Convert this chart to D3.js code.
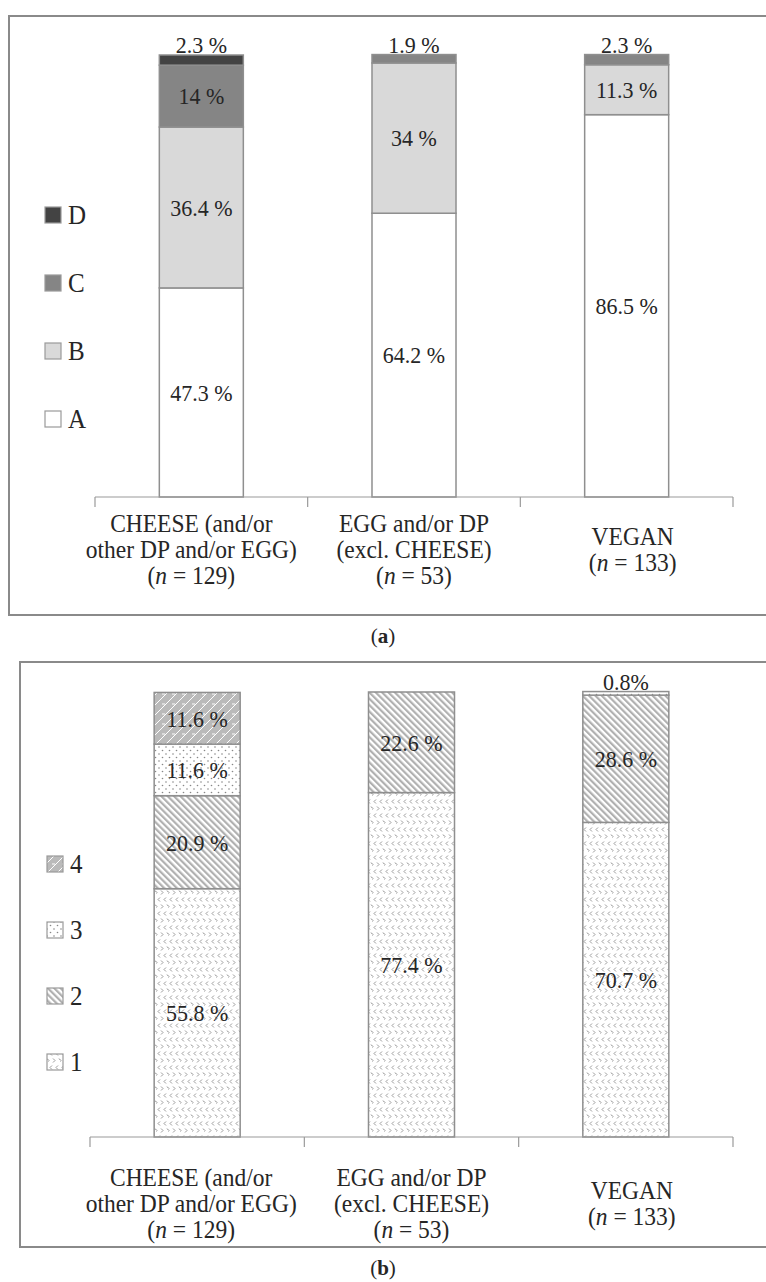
<!DOCTYPE html>
<html><head><meta charset="utf-8">
<script src="https://cdn.jsdelivr.net/npm/d3@7"></script>
<style>
body{margin:0;background:#fff}
svg{display:block}
text{font-family:"Liberation Serif","Times New Roman",serif;fill:#262626}
</style>
</head><body>
<svg id="c" width="766" height="1282"></svg>
<script>
// ---------- data ----------
const categories = ["CHEESE", "EGG", "VEGAN"];
const categoryLines = [["CHEESE (and/or", "other DP and/or EGG)"], ["EGG and/or DP", "(excl. CHEESE)"], ["VEGAN"]];
const sampleSizes = [129, 53, 133];

// panel (a)
const keysA = ["A", "B", "C", "D"];
const valuesA_A = [47.3, 64.2, 86.5];
const valuesA_B = [36.4, 34, 11.3];
const valuesA_C = [14, 1.9, 2.3];
const valuesA_D = [2.3, 0, 0];

// panel (b)
const keysB = ["1", "2", "3", "4"];
const valuesB_1 = [55.8, 77.4, 70.7];
const valuesB_2 = [20.9, 22.6, 28.6];
const valuesB_3 = [11.6, 0, 0.8];
const valuesB_4 = [11.6, 0, 0];

const panelLabels = ["a", "b"];

// ---------- drawing ----------
const svg = d3.select("#c");
const defs = svg.append("defs");

// patterns for panel (b)
const p1 = defs.append("pattern").attr("id", "pat1").attr("patternUnits", "userSpaceOnUse")
  .attr("width", 12).attr("height", 14);
p1.append("rect").attr("width", 12).attr("height", 14).attr("fill", "#fff");
p1.append("path").attr("d",
  "M4,1.5 L2,3.5 L4,5.5 M10,1.5 L8,3.5 L10,5.5 M5,8.5 L7,10.5 L5,12.5 M11,8.5 L12.5,10.5 M-1,8.5 L1,10.5 L-1,12.5")
  .attr("fill", "none").attr("stroke", "#8e8e8e").attr("stroke-width", 0.9);

const p2 = defs.append("pattern").attr("id", "pat2").attr("patternUnits", "userSpaceOnUse")
  .attr("width", 4.5).attr("height", 4.5).attr("patternTransform", "rotate(-45)");
p2.append("rect").attr("width", 4.5).attr("height", 4.5).attr("fill", "#fff");
p2.append("rect").attr("width", 2.2).attr("height", 4.5).attr("fill", "#b0b0b0");

const p3 = defs.append("pattern").attr("id", "pat3").attr("patternUnits", "userSpaceOnUse")
  .attr("width", 7).attr("height", 7);
p3.append("rect").attr("width", 7).attr("height", 7).attr("fill", "#fff");
p3.append("circle").attr("cx", 1.5).attr("cy", 1.5).attr("r", 0.8).attr("fill", "#888");
p3.append("circle").attr("cx", 5).attr("cy", 5).attr("r", 0.8).attr("fill", "#888");

const p4 = defs.append("pattern").attr("id", "pat4").attr("patternUnits", "userSpaceOnUse")
  .attr("width", 10).attr("height", 10);
p4.append("rect").attr("width", 10).attr("height", 10).attr("fill", "#bababa");
p4.append("path").attr("d", "M0,10 L10,0 M-2,2 L2,-2 M8,12 L12,8 M2,4 L5,4")
  .attr("fill", "none").attr("stroke", "#fff").attr("stroke-width", 1);

const fillA = {A: "#ffffff", B: "#d9d9d9", C: "#858585", D: "#434343"};
const fillB = {"1": "url(#pat1)", "2": "url(#pat2)", "3": "url(#pat3)", "4": "url(#pat4)"};

function addText(g, x, y, str, size, anchor) {
  return g.append("text")
    .attr("transform", `translate(${x},${y}) scale(1,1.08)`)
    .attr("text-anchor", anchor || "middle")
    .attr("dy", "0.35em")
    .style("font-size", size + "px")
    .text(str);
}
function addNText(g, x, y, n, size) {
  const t = g.append("text")
    .attr("transform", `translate(${x},${y}) scale(1,1.08)`)
    .attr("text-anchor", "middle").attr("dy", "0.35em")
    .style("font-size", size + "px");
  t.append("tspan").text("(");
  t.append("tspan").style("font-style", "italic").text("n");
  t.append("tspan").text(" = " + n + ")");
}
function fmt(v) { return v < 1 ? v + "%" : v + " %"; }

function drawPanel(cfg) {
  const g = svg.append("g");
  // frame
  g.append("rect").attr("x", cfg.box[0]).attr("y", cfg.box[1])
    .attr("width", cfg.box[2]).attr("height", cfg.box[3])
    .attr("fill", "none").attr("stroke", "#8a8a8a").attr("stroke-width", 2);

  const x = d3.scaleBand().domain(d3.range(categories.length))
    .range(cfg.xRange).paddingInner(cfg.pad).paddingOuter(cfg.pad / 2);
  const y = d3.scaleLinear().domain([0, 100]).range([cfg.axisY, cfg.topY]);

  const rows = categories.map((c, i) => {
    const o = {idx: i};
    cfg.keys.forEach((k, j) => o[k] = cfg.series[j][i]);
    return o;
  });
  const stacked = d3.stack().keys(cfg.keys)(rows);

  // bars
  stacked.forEach(layer => {
    g.append("g").selectAll("rect")
      .data(layer.filter(d => d[1] - d[0] > 0))
      .join("rect")
      .attr("x", d => x(d.data.idx))
      .attr("width", x.bandwidth())
      .attr("y", d => y(d[1]))
      .attr("height", d => y(d[0]) - y(d[1]))
      .attr("fill", cfg.fill[layer.key])
      .attr("stroke", "#8f8f8f").attr("stroke-width", 1.5);
  });
  // value labels
  stacked.forEach(layer => {
    layer.forEach(d => {
      const v = d[1] - d[0];
      if (v <= 0) return;
      const cx = x(d.data.idx) + x.bandwidth() / 2;
      const small = v < 3;
      const cy = small ? y(d[1]) - 10 : (y(d[0]) + y(d[1])) / 2;
      addText(g, cx, cy, fmt(+v.toFixed(1)), 22);
    });
  });

  // axis
  const ax = g.append("g").attr("stroke", "#9a9a9a").attr("stroke-width", 1.2);
  ax.append("line").attr("x1", cfg.xRange[0]).attr("x2", cfg.xRange[1])
    .attr("y1", cfg.axisY).attr("y2", cfg.axisY);
  d3.range(categories.length + 1).forEach(i => {
    const tx = cfg.xRange[0] + i * x.step();
    ax.append("line").attr("x1", tx).attr("x2", tx)
      .attr("y1", cfg.axisY).attr("y2", cfg.axisY + 10);
  });

  // category labels
  categoryLines.forEach((lines, i) => {
    const cx = x(i) + x.bandwidth() / 2 + cfg.labelShift[i];
    const all = lines.length;
    const startY = cfg.labelY + (all === 1 ? 13 : 0);
    lines.forEach((ln, j) => addText(g, cx, startY + j * 26, ln, 23.5));
    addNText(g, cx, startY + all * 26, sampleSizes[i], 23.5);
  });

  // legend
  cfg.legendKeys.forEach((k, j) => {
    const ly = cfg.legendY + j * cfg.legendStep;
    g.append("rect").attr("x", cfg.legendX).attr("y", ly - 8)
      .attr("width", 16).attr("height", 16)
      .attr("fill", cfg.fill[k]).attr("stroke", "#9a9a9a").attr("stroke-width", 1.2);
    addText(g, cfg.legendX + 23, ly, k, 25, "start");
  });

  // panel caption
  const cap = g.append("text")
    .attr("x", 383).attr("y", cfg.captionY).attr("text-anchor", "middle")
    .attr("dy", "0.35em").style("font-size", "21px");
  cap.append("tspan").text("(");
  cap.append("tspan").style("font-weight", "bold").text(cfg.caption);
  cap.append("tspan").text(")");
}

drawPanel({
  box: [9, 16, 770, 599],
  xRange: [95, 733], pad: 0.605,
  axisY: 497, topY: 55,
  keys: keysA, series: [valuesA_A, valuesA_B, valuesA_C, valuesA_D],
  fill: fillA,
  labelY: 523, labelShift: [-10, 0, 6],
  legendKeys: ["D", "C", "B", "A"], legendX: 45, legendY: 215, legendStep: 68,
  caption: panelLabels[0], captionY: 636
});

drawPanel({
  box: [20, 662, 760, 585],
  xRange: [90, 733], pad: 0.5987,
  axisY: 1137, topY: 692,
  keys: keysB, series: [valuesB_1, valuesB_2, valuesB_3, valuesB_4],
  fill: fillB,
  labelY: 1177, labelShift: [-6, 0, 6],
  legendKeys: ["4", "3", "2", "1"], legendX: 47, legendY: 864, legendStep: 66,
  caption: panelLabels[1], captionY: 1268
});
</script>
</body></html>
